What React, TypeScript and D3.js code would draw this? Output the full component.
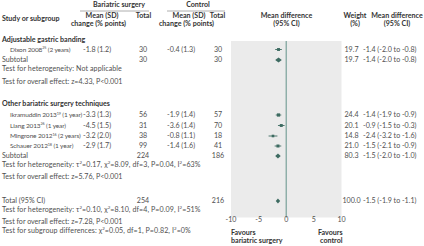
import React from "react";
import * as d3 from "d3";

// ---- data ----
const groupNames = ["Adjustable gastric banding", "Other bariatric surgery techniques"];
const studyNames = ["Dixon 2008", "Ikramuddin 2013", "Liang 2013", "Mingrone 2012", "Schauer 2012"];
const studyRefs = ["25", "19", "26", "16", "18"];
const studyFollowUp = ["(2 years)", "(1 year)", "(1 year)", "(2 years)", "(1 year)"];
const surgMean = ["-1.8", "-3.3", "-4.5", "-3.2", "-2.9"];
const surgSD = ["1.2", "1.3", "1.5", "2.0", "1.7"];
const surgN = [30, 56, 31, 38, 99];
const ctrlMean = ["-0.4", "-1.9", "-3.6", "-0.8", "-1.4"];
const ctrlSD = ["1.3", "1.4", "1.4", "1.1", "1.6"];
const ctrlN = [30, 57, 70, 18, 41];
const studyWeight = [19.7, 24.4, 20.1, 14.8, 21.0];
const studyMD = [-1.4, -1.4, -0.9, -2.4, -1.5];
const studyLo = [-2.0, -1.9, -1.5, -3.2, -2.1];
const studyHi = [-0.8, -0.9, -0.3, -1.6, -0.9];

const subSurgN = [30, 224];
const subCtrlN = [30, 186];
const subWeight = [19.7, 80.3];
const subMD = [-1.4, -1.5];
const subLo = [-2.0, -2.0];
const subHi = [-0.8, -1.0];
const subHet = ["Not applicable", "τ2=0.17, χ2=8.09, df=3, P=0.04, I2=63%"];
const subOverall = ["z=4.33, P<0.001", "z=5.76, P<0.001"];

const totSurgN = 254;
const totCtrlN = 216;
const totWeight = 100.0;
const totMD = -1.5;
const totLo = -1.9;
const totHi = -1.1;
const totHet = "τ2=0.10, χ2=8.10, df=4, P=0.09, I2=51%";
const totOverall = "z=7.28, P<0.001";
const subgroupDiff = "χ2=0.05, df=1, P=0.82, I2=0%";

const axisTicks = [-10, -5, 0, 5, 10];

// ---- layout ----
const W = 424, H = 246;
const FONT = "Lato, 'Open Sans', sans-serif";
const FS = 7.1;
const STUDY_FS = 6.5;
const TXT = "#505050";
const BOLD = "#333";
const MARK = "#3d6b61";
const ZERO = "#8aaca6";
const PANEL = "#ebebeb";

const groupHeadY = [39.5, 104];
const studyY = [49.5, 115, 125.5, 136, 146];
const subY = [60, 156];
const hetY = [71, 166.5];
const ovY = [81.5, 177];
const totY = 201, totHetY = 211.5, totOvY = 222, sgY = 232.5;

const colSurgMean = 83;
const colSurgN = 143;
const colCtrlMean = 167;
const colCtrlN = 218;
const colWeight = 351.5;
const colMD = 363;

const x = d3.scaleLinear().domain([-10, 10]).range([231, 341.5]);
const markSize = d3.scaleLinear().domain([0, 30]).range([1.6, 3.6]);

function fmt1(v: number) {
  return d3.format(".1f")(v).replace("−", "-");
}

const SUP = 2.3;

// render text containing "2" superscripts after τ, χ, I
function supText(s: string) {
  const parts: React.ReactNode[] = [];
  const re = /(τ|χ|I)2/g;
  let last = 0;
  let m: RegExpExecArray | null;
  let k = 0;
  let raised = false;
  while ((m = re.exec(s))) {
    parts.push(
      <tspan key={k++} dy={raised ? SUP : 0}>
        {s.slice(last, m.index) + m[1]}
      </tspan>
    );
    parts.push(
      <tspan key={k++} dy={-SUP} fontSize={FS * 0.62}>
        2
      </tspan>
    );
    raised = true;
    last = m.index + 2;
  }
  parts.push(
    <tspan key={k++} dy={raised ? SUP : 0}>
      {s.slice(last)}
    </tspan>
  );
  return parts;
}

const T = (props: any) => (
  <text
    fontFamily={FONT}
    fontSize={FS}
    fill={props.bold ? BOLD : TXT}
    fontWeight={props.bold ? 700 : 400}
    dy="0.35em"
    {...props}
  />
);

export default function App() {
  const zeroX = x(0);
  return (
    <svg
      width={W}
      height={H}
      style={{ position: "absolute", left: 0, top: 0, background: "#fff" }}
    >
      {/* panel */}
      <rect x={x(-10)} y={41} width={x(10) - x(-10)} height={217.5 - 41} fill={PANEL} />
      <line x1={zeroX} x2={zeroX} y1={41} y2={217.5} stroke={ZERO} strokeWidth={1.4} />

      {/* headers */}
      <T x={119} y={5} textAnchor="middle" bold>Bariatric surgery</T>
      <line x1={80} x2={149} y1={11} y2={11} stroke="#999" strokeWidth={0.8} />
      <T x={198} y={5} textAnchor="middle" bold>Control</T>
      <line x1={167} x2={225} y1={11} y2={11} stroke="#999" strokeWidth={0.8} />
      <T x={2} y={18.5} bold>Study or subgroup</T>
      <T x={102} y={15.5} textAnchor="middle" bold>Mean (SD)</T>
      <T x={98.5} y={24} textAnchor="middle" bold>change (% points)</T>
      <T x={143.5} y={15.5} textAnchor="middle" bold>Total</T>
      <T x={189} y={15.5} textAnchor="middle" bold>Mean (SD)</T>
      <T x={186.5} y={24} textAnchor="middle" bold>change (% points)</T>
      <T x={217.5} y={15.5} textAnchor="middle" bold>Total</T>
      <T x={286.5} y={15.5} textAnchor="middle" bold>Mean difference</T>
      <T x={286.5} y={24} textAnchor="middle" bold>(95% CI)</T>
      <T x={355} y={15.5} textAnchor="middle" bold>Weight</T>
      <T x={355} y={24} textAnchor="middle" bold>(%)</T>
      <T x={397} y={15.5} textAnchor="middle" bold>Mean difference</T>
      <T x={397} y={24} textAnchor="middle" bold>(95% CI)</T>

      {/* groups */}
      {groupNames.map((g, gi) => (
        <g key={g}>
          <T x={2} y={groupHeadY[gi]} bold>{g}</T>
          <T x={2} y={subY[gi]}>Subtotal</T>
          <T x={colSurgN} y={subY[gi]} textAnchor="middle">{subSurgN[gi]}</T>
          <T x={colCtrlN} y={subY[gi]} textAnchor="middle">{subCtrlN[gi]}</T>
          <T x={colWeight} y={subY[gi]} textAnchor="middle">{fmt1(subWeight[gi])}</T>
          <T x={colMD} y={subY[gi]}>
            {`${fmt1(subMD[gi])} (${fmt1(subLo[gi])} to ${fmt1(subHi[gi])})`}
          </T>
          <path
            d={`M${x(subLo[gi])},${subY[gi]} L${x(subMD[gi])},${subY[gi] - 2.6} L${x(subHi[gi])},${subY[gi]} L${x(subMD[gi])},${subY[gi] + 2.6} Z`}
            fill={MARK}
          />
          <T x={2} y={hetY[gi]} letterSpacing={0.08}>{supText("Test for heterogeneity: " + subHet[gi])}</T>
          <T x={2} y={ovY[gi]}>{"Test for overall effect: " + subOverall[gi]}</T>
        </g>
      ))}

      {/* studies */}
      {studyNames.map((s, i) => {
        const y = studyY[i];
        const sz = markSize(studyWeight[i]);
        return (
          <g key={s}>
            <T x={10} y={y} fontSize={STUDY_FS} letterSpacing={-0.14}>
              <tspan>{s}</tspan>
              <tspan dy={-SUP} fontSize={STUDY_FS * 0.58}>{studyRefs[i]}</tspan>
              <tspan dy={SUP}>{" " + studyFollowUp[i]}</tspan>
            </T>
            <T x={colSurgMean} y={y}>{`${surgMean[i]} (${surgSD[i]})`}</T>
            <T x={colSurgN} y={y} textAnchor="middle">{surgN[i]}</T>
            <T x={colCtrlMean} y={y}>{`${ctrlMean[i]} (${ctrlSD[i]})`}</T>
            <T x={colCtrlN} y={y} textAnchor="middle">{ctrlN[i]}</T>
            <T x={colWeight} y={y} textAnchor="middle">{fmt1(studyWeight[i])}</T>
            <T x={colMD} y={y}>
              {`${fmt1(studyMD[i])} (${fmt1(studyLo[i])} to ${fmt1(studyHi[i])})`}
            </T>
            <line x1={x(studyLo[i])} x2={x(studyHi[i])} y1={y} y2={y} stroke={MARK} strokeWidth={0.9} />
            <rect x={x(studyMD[i]) - sz / 2} y={y - sz / 2} width={sz} height={sz} fill={MARK} />
          </g>
        );
      })}

      {/* total */}
      <T x={2} y={totY}>Total (95% CI)</T>
      <T x={colSurgN} y={totY} textAnchor="middle">{totSurgN}</T>
      <T x={colCtrlN} y={totY} textAnchor="middle">{totCtrlN}</T>
      <T x={colWeight} y={totY} textAnchor="middle">{fmt1(totWeight)}</T>
      <T x={colMD} y={totY}>{`${fmt1(totMD)} (${fmt1(totLo)} to ${fmt1(totHi)})`}</T>
      <path
        d={`M${x(totLo)},${totY} L${x(totMD)},${totY - 2.6} L${x(totHi)},${totY} L${x(totMD)},${totY + 2.6} Z`}
        fill={MARK}
      />
      <T x={2} y={totHetY} letterSpacing={0.08}>{supText("Test for heterogeneity: " + totHet)}</T>
      <T x={2} y={totOvY}>{"Test for overall effect: " + totOverall}</T>
      <T x={2} y={sgY} letterSpacing={0.08}>{supText("Test for subgroup differences: " + subgroupDiff)}</T>

      {/* axis */}
      {axisTicks.map((t) => (
        <T key={t} x={x(t)} y={219.5} textAnchor="middle">{t}</T>
      ))}
      <T x={x(-10)} y={232.5} bold>Favours</T>
      <T x={x(-10)} y={241} bold>bariatric surgery</T>
      <T x={x(10) + 1} y={232.5} textAnchor="end" bold>Favours</T>
      <T x={x(10) + 1} y={241} textAnchor="end" bold>control</T>
    </svg>
  );
}
